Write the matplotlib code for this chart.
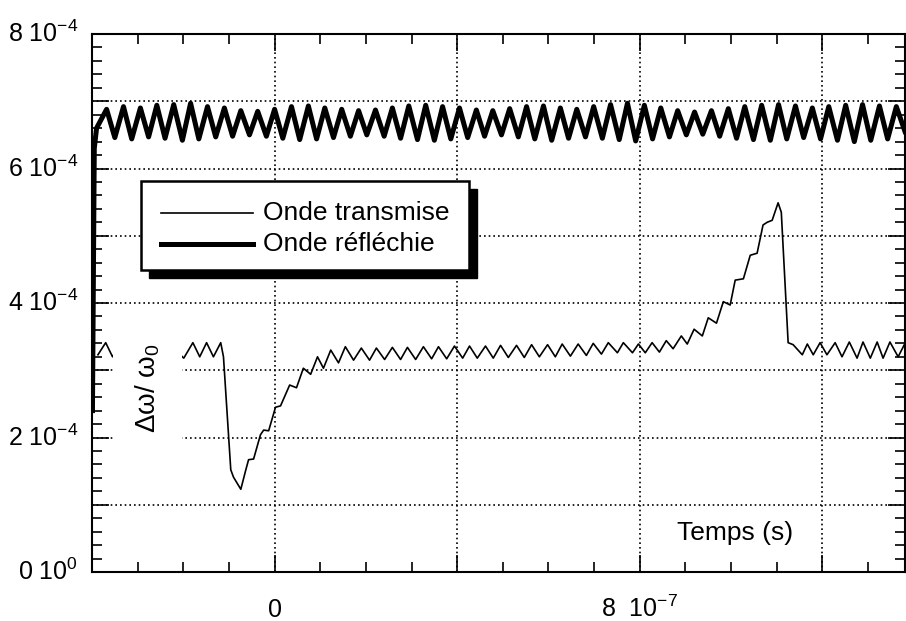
import numpy as np
import matplotlib
matplotlib.use('Agg')
import matplotlib.pyplot as plt
from matplotlib.patches import Rectangle
from matplotlib.lines import Line2D
from matplotlib.ticker import MultipleLocator

plt.rcParams['font.family'] = 'Liberation Sans'
plt.rcParams['mathtext.fontset'] = 'custom'
plt.rcParams['mathtext.rm'] = 'Liberation Sans'
plt.rcParams['mathtext.it'] = 'Liberation Sans'
plt.rcParams['mathtext.default'] = 'regular'

# temps en ns, valeurs en unites de 1e-4
# onde transmise
trans_t = [-387, -370, -355, -337, -322, -304, -287, -269, -252, -234,
           -217, -199, -179, -164, -149, -134, -118, -112, -96, -90,
           -74, -63, -57, -46, -31, -24, -13, 2, 13, 33,
           48, 63, 79, 94, 107, 123, 140, 155, 173, 190,
           208, 223, 241, 258, 276, 291, 309, 326, 344, 359,
           377, 394, 412, 427, 444, 462, 479, 495, 512, 530,
           547, 563, 580, 598, 615, 630, 648, 665, 683, 698,
           716, 731, 751, 764, 784, 797, 812, 827, 843, 858,
           873, 891, 904, 919, 937, 950, 968, 983, 998, 1009,
           1027, 1042, 1057, 1070, 1079, 1090, 1103, 1110, 1125, 1136,
           1156, 1167, 1180, 1195, 1210, 1228, 1243, 1259, 1276, 1289,
           1305, 1320, 1333, 1348, 1366, 1381]
trans_v = [3.23, 3.41, 3.20, 3.40, 3.20, 3.40, 3.20, 3.40, 3.20, 3.40,
           3.30, 3.18, 3.41, 3.20, 3.41, 3.20, 3.41, 3.20, 1.52, 1.41,
           1.23, 1.52, 1.67, 1.68, 2.04, 2.11, 2.10, 2.45, 2.47, 2.78,
           2.74, 3.03, 2.94, 3.20, 3.03, 3.30, 3.11, 3.35, 3.15, 3.33,
           3.15, 3.33, 3.16, 3.34, 3.16, 3.34, 3.16, 3.35, 3.17, 3.35,
           3.17, 3.36, 3.18, 3.36, 3.18, 3.36, 3.18, 3.37, 3.19, 3.37,
           3.19, 3.38, 3.20, 3.38, 3.20, 3.39, 3.21, 3.39, 3.22, 3.40,
           3.24, 3.41, 3.26, 3.41, 3.26, 3.39, 3.26, 3.41, 3.27, 3.44,
           3.32, 3.51, 3.39, 3.61, 3.51, 3.78, 3.70, 4.02, 3.97, 4.34,
           4.36, 4.71, 4.74, 5.16, 5.20, 5.23, 5.49, 5.35, 3.41, 3.38,
           3.23, 3.39, 3.23, 3.41, 3.23, 3.41, 3.20, 3.42, 3.18, 3.42,
           3.18, 3.42, 3.18, 3.42, 3.20, 3.40]

# onde reflechie : montee initiale, crêtes, creux
refl_start_t = [-399, -395, -390]
refl_start_v = [2.40, 6.30, 6.60]
refl_peak_t = [-368, -331, -294, -258, -221, -184, -147, -110, -74, -37,
               0, 37, 74, 110, 147, 184, 221, 258, 294, 331,
               368, 405, 442, 478, 515, 552, 589, 626, 662, 699,
               736, 773, 810, 846, 883, 920, 957, 994, 1030, 1067,
               1104, 1141, 1178, 1214, 1251, 1288, 1325, 1362]
refl_peak_v = [6.88, 6.92, 6.90, 6.94, 6.95, 6.97, 6.92, 6.90, 6.86, 6.85,
               6.88, 6.92, 6.93, 6.90, 6.88, 6.86, 6.87, 6.90, 6.93, 6.94,
               6.92, 6.90, 6.87, 6.86, 6.89, 6.92, 6.93, 6.90, 6.88, 6.92,
               6.95, 6.97, 6.94, 6.90, 6.86, 6.84, 6.86, 6.89, 6.92, 6.94,
               6.95, 6.93, 6.90, 6.92, 6.94, 6.95, 6.93, 6.92]
refl_trough_t = [-350, -313, -276, -240, -202, -166, -129, -92, -55, -18,
                 18, 55, 92, 129, 166, 202, 240, 276, 313, 350,
                 386, 423, 460, 497, 534, 570, 607, 644, 681, 718,
                 755, 791, 828, 865, 902, 938, 975, 1012, 1049, 1086,
                 1122, 1159, 1196, 1233, 1270, 1306, 1343, 1381]
refl_trough_v = [6.46, 6.44, 6.47, 6.45, 6.42, 6.44, 6.47, 6.48, 6.50, 6.48,
                 6.45, 6.43, 6.44, 6.46, 6.48, 6.50, 6.48, 6.45, 6.43, 6.42,
                 6.44, 6.46, 6.48, 6.50, 6.47, 6.44, 6.42, 6.45, 6.47, 6.45,
                 6.43, 6.41, 6.44, 6.47, 6.50, 6.51, 6.48, 6.45, 6.43, 6.42,
                 6.44, 6.46, 6.44, 6.42, 6.40, 6.42, 6.44, 6.55]

ytick_vals = [0, 2e-4, 4e-4, 6e-4, 8e-4]
ytick_labels = [r'0 10$^{0}$', r'2 10$^{-4}$', r'4 10$^{-4}$', r'6 10$^{-4}$', r'8 10$^{-4}$']
xtick_vals = [0, 8e-7]
xtick_labels = ['0', r'8  10$^{-7}$']

refl_t = np.concatenate([refl_start_t, refl_peak_t, refl_trough_t])
refl_v = np.concatenate([refl_start_v, refl_peak_v, refl_trough_v])
order = np.argsort(refl_t)
refl_t, refl_v = refl_t[order], refl_v[order]

fig = plt.figure(figsize=(9.06, 6.21), dpi=100)
ax = fig.add_axes([92/906, 1-572/621, 813/906, 538/621])

ax.plot(np.array(trans_t)*1e-9, np.array(trans_v)*1e-4, color='black', lw=1.2, zorder=3)
ax.plot(refl_t*1e-9, refl_v*1e-4, color='black', lw=3.6, zorder=3)

ax.set_xlim(-4e-7, 1.381e-6)
ax.set_ylim(0, 8e-4)

ax.xaxis.set_major_locator(MultipleLocator(4e-7))
ax.xaxis.set_minor_locator(MultipleLocator(1e-7))
ax.yaxis.set_major_locator(MultipleLocator(1e-4))
ax.yaxis.set_minor_locator(MultipleLocator(0.2e-4))
ax.set_xticklabels([])
ax.set_yticklabels([])
ax.tick_params(which='both', direction='in', top=True, right=True, width=1.2, colors='black')
ax.tick_params(which='major', length=12)
ax.tick_params(which='minor', length=7)
for sp in ax.spines.values():
    sp.set_linewidth(1.5)

ax.grid(True, which='major', color='black', linestyle=(0, (1, 1.8)), linewidth=1.2)
ax.set_axisbelow(True)

# etiquettes des graduations
for v, lab in zip(ytick_vals, ytick_labels):
    ax.text(-0.017, v, lab, transform=ax.get_yaxis_transform(), ha='right',
            va='center', fontsize=18)
for v, lab in zip(xtick_vals, xtick_labels):
    ax.text(v, -0.0836, lab, transform=ax.get_xaxis_transform(), ha='center',
            va='baseline', fontsize=18)

ax.text(0.791, 0.0725, 'Temps (s)', transform=ax.transAxes, ha='center',
        va='center', fontsize=19)

# titre d'axe dans le cadre
ax.add_patch(Rectangle((0.0258, 0.1747), 0.0849, 0.2658, transform=ax.transAxes,
                       facecolor='white', edgecolor='none', zorder=4))
ax.text(0.0689, 0.342, r'$\Delta\omega$/ $\omega_0$', transform=ax.transAxes,
        rotation=90, ha='center', va='center', fontsize=20, zorder=5)

# legende avec ombre
x0, y0, w, h = 0.0603, 0.5613, 0.4034, 0.1655
ax.add_patch(Rectangle((x0 + 0.0098, y0 - 0.0149), w, h, transform=ax.transAxes,
                       facecolor='black', edgecolor='black', zorder=6))
ax.add_patch(Rectangle((x0, y0), w, h, transform=ax.transAxes,
                       facecolor='white', edgecolor='black', lw=1.8, zorder=7))
ax.add_line(Line2D([0.0849, 0.198], [0.6673, 0.6673], transform=ax.transAxes,
                   color='black', lw=1.2, zorder=8))
ax.add_line(Line2D([0.0849, 0.198], [0.6097, 0.6097], transform=ax.transAxes,
                   color='black', lw=3.6, zorder=8))
ax.text(0.2103, 0.6673, 'Onde transmise', transform=ax.transAxes, va='center',
        fontsize=19, zorder=8)
ax.text(0.2103, 0.6097, 'Onde réfléchie', transform=ax.transAxes, va='center',
        fontsize=19, zorder=8)

plt.savefig('out.png', dpi=100)
